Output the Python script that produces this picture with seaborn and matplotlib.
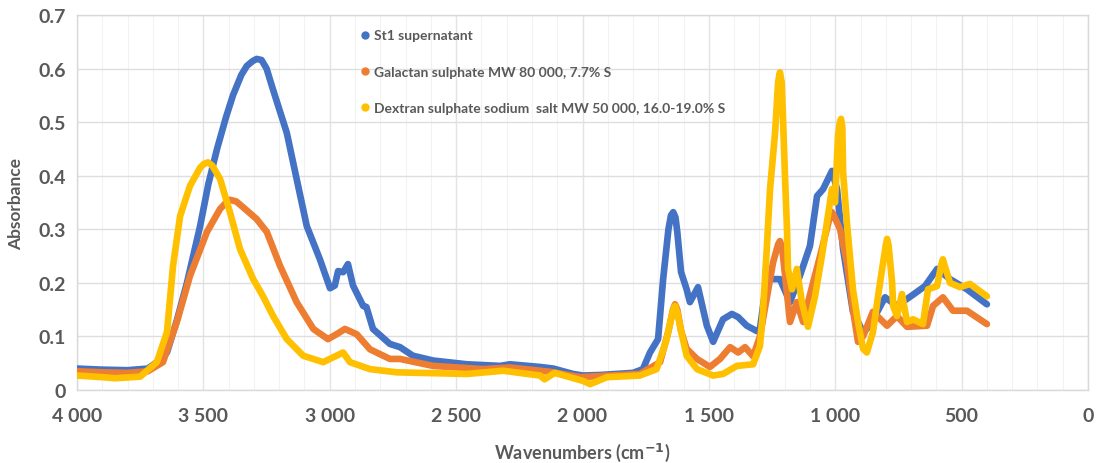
import matplotlib
matplotlib.use("Agg")
import matplotlib.pyplot as plt
import seaborn as sns
import pandas as pd
from matplotlib.lines import Line2D
from matplotlib.ticker import MultipleLocator, FixedLocator

# ---------------- data ----------------
series_names = ["St1 supernatant",
                "Galactan sulphate MW 80 000, 7.7% S",
                "Dextran sulphate sodium  salt MW 50 000, 16.0-19.0% S"]

st1_wn = [4000, 3900, 3800, 3720, 3684, 3644, 3605, 3565, 3513, 3480, 3446, 3410, 3383, 3350, 3328, 3305,
          3289, 3270, 3250, 3224, 3170, 3131, 3091, 3039, 2999, 2980, 2967, 2947, 2928, 2908, 2868, 2855,
          2829, 2762, 2722, 2671, 2591, 2457, 2326, 2287, 2168, 2115, 2038, 1998, 1931, 1800, 1761,
          1733, 1701, 1681, 1660, 1650, 1641, 1632, 1625, 1610, 1588, 1575, 1543, 1508, 1483, 1444, 1409,
          1384, 1350, 1310, 1298, 1271, 1219, 1179, 1140, 1100, 1072, 1048, 1013, 993, 969,
          930, 890, 863, 803, 756, 692, 645, 597, 546, 479, 400]
st1_abs = [0.040, 0.038, 0.037, 0.040, 0.052, 0.070, 0.130, 0.200, 0.306, 0.385, 0.450, 0.510, 0.550, 0.588, 0.605, 0.614,
           0.618, 0.616, 0.600, 0.560, 0.480, 0.394, 0.306, 0.244, 0.190, 0.195, 0.222, 0.220, 0.235, 0.195, 0.157, 0.155,
           0.114, 0.086, 0.080, 0.064, 0.055, 0.048, 0.045, 0.048, 0.043, 0.040, 0.030, 0.027, 0.028, 0.032, 0.039,
           0.070, 0.095, 0.207, 0.300, 0.326, 0.332, 0.322, 0.295, 0.220, 0.188, 0.164, 0.192, 0.120, 0.090, 0.132, 0.142,
           0.136, 0.120, 0.110, 0.114, 0.207, 0.207, 0.164, 0.213, 0.269, 0.362, 0.375, 0.409, 0.375, 0.263,
           0.146, 0.108, 0.120, 0.173, 0.157, 0.178, 0.194, 0.226, 0.207, 0.188, 0.160]

gal_wn = [4000, 3900, 3800, 3720, 3660, 3605, 3553, 3486, 3434, 3410, 3395, 3370, 3340, 3289, 3249, 3197,
          3131, 3065, 3007, 2970, 2940, 2893, 2841, 2762, 2722, 2591, 2394, 2287, 2129, 2010,
          1931, 1773, 1693, 1660, 1642, 1634, 1625, 1610, 1588, 1547, 1496, 1456, 1416, 1384, 1357, 1325,
          1298, 1246, 1226, 1219, 1210, 1179, 1152, 1127, 1088, 1060, 1020, 1013, 1005, 981, 954, 930, 910, 890, 851,
          795, 756, 716, 637, 613, 574, 534, 479, 400]
gal_abs = [0.035, 0.033, 0.032, 0.035, 0.052, 0.127, 0.213, 0.295, 0.338, 0.350, 0.355, 0.352, 0.340, 0.319, 0.295, 0.232,
           0.164, 0.114, 0.095, 0.105, 0.114, 0.104, 0.076, 0.058, 0.058, 0.045, 0.039, 0.042, 0.034, 0.024,
           0.026, 0.030, 0.052, 0.110, 0.150, 0.160, 0.150, 0.110, 0.077, 0.058, 0.043, 0.058, 0.080, 0.070, 0.080, 0.063,
           0.100, 0.238, 0.272, 0.278, 0.265, 0.127, 0.164, 0.127, 0.200, 0.250, 0.326, 0.332, 0.325, 0.300, 0.238, 0.150, 0.090, 0.100, 0.146,
           0.120, 0.138, 0.118, 0.120, 0.157, 0.173, 0.148, 0.148, 0.123]

dex_wn = [4000, 3900, 3850, 3750, 3684, 3644, 3620, 3592, 3553, 3513, 3498, 3482, 3465, 3434, 3395, 3355,
          3303, 3264, 3224, 3170, 3105, 3026, 2947, 2920, 2841, 2734, 2457, 2314, 2168, 2150,
          2110, 1998, 1970, 1903, 1773, 1707, 1670, 1642, 1634, 1625, 1610, 1588, 1547, 1483, 1444, 1389,
          1325, 1298, 1286, 1271, 1258, 1238, 1226, 1219, 1212, 1207, 1199, 1191, 1187, 1171, 1152, 1132,
          1108, 1080, 1053, 1029, 1013, 1001, 989, 982, 977, 972, 969, 954, 942, 930, 910, 890, 875, 851,
          823, 800, 795, 789, 775, 771, 756, 736, 716, 692, 653, 633, 597, 580, 574, 567, 546, 506, 467, 400]
dex_abs = [0.027, 0.024, 0.022, 0.025, 0.052, 0.108, 0.232, 0.325, 0.381, 0.415, 0.422, 0.425, 0.419, 0.394, 0.332, 0.263,
           0.207, 0.175, 0.138, 0.095, 0.064, 0.052, 0.070, 0.052, 0.039, 0.033, 0.030, 0.036, 0.027, 0.020,
           0.032, 0.017, 0.011, 0.024, 0.027, 0.039, 0.090, 0.148, 0.157, 0.145, 0.110, 0.064, 0.039, 0.027, 0.030, 0.045,
           0.048, 0.082, 0.146, 0.263, 0.375, 0.481, 0.575, 0.593, 0.575, 0.511, 0.400, 0.300, 0.226, 0.188, 0.226, 0.164,
           0.118, 0.175, 0.250, 0.325, 0.375, 0.350, 0.474, 0.500, 0.506, 0.490, 0.407, 0.313, 0.250, 0.188, 0.127, 0.077, 0.070, 0.108,
           0.200, 0.270, 0.282, 0.270, 0.200, 0.157, 0.138, 0.179, 0.127, 0.132, 0.123, 0.188, 0.194, 0.235, 0.244, 0.232, 0.200, 0.192, 0.198, 0.175]

x_ticks = [4000, 3500, 3000, 2500, 2000, 1500, 1000, 500, 0]
x_tick_labels = ["4 000", "3 500", "3 000", "2 500", "2 000", "1 500", "1 000", "500", "0"]
y_ticks = [0, 0.1, 0.2, 0.3, 0.4, 0.5, 0.6, 0.7]
y_tick_labels = ["0", "0.1", "0.2", "0.3", "0.4", "0.5", "0.6", "0.7"]

colors = ["#4472C4", "#ED7D31", "#FFC000"]

# ---------------- figure ----------------
sns.set_theme(style="white")
plt.rcParams["font.family"] = ["Lato", "DejaVu Sans"]

fig = plt.figure(figsize=(10.97, 4.64), dpi=100)
ax = fig.add_axes([0.0702, 0.1573, 0.9216, 0.8082])

frames = []
for name, wn, ab in [(series_names[0], st1_wn, st1_abs),
                     (series_names[1], gal_wn, gal_abs),
                     (series_names[2], dex_wn, dex_abs)]:
    assert len(wn) == len(ab), name
    frames.append(pd.DataFrame({"wn": wn, "abs": ab, "series": name}))
df = pd.concat(frames, ignore_index=True)

for name, col in zip(series_names, colors):
    sub = df[df["series"] == name]
    sns.lineplot(data=sub, x="wn", y="abs", sort=False, color=col, linewidth=4.8,
                 ax=ax, legend=False, solid_capstyle="round", solid_joinstyle="round", zorder=3)

ax.set_xlim(4000, 0)
ax.set_ylim(0, 0.7)
ax.xaxis.set_major_locator(FixedLocator(x_ticks))
ax.set_xticklabels(x_tick_labels)
ax.xaxis.set_minor_locator(MultipleLocator(100))
ax.set_yticks(y_ticks)
ax.set_yticklabels(y_tick_labels)

ax.grid(True, which="major", axis="y", color="#dedede", linewidth=1.0, zorder=0)
ax.grid(True, which="major", axis="x", color="#e3e3e3", linewidth=1.0, zorder=0)
ax.grid(True, which="minor", axis="x", color="#f2f2f2", linewidth=0.8, zorder=0)
ax.set_axisbelow(True)
for s in ax.spines.values():
    s.set_color("#d9d9d9")
    s.set_linewidth(1.0)

ax.tick_params(axis="both", which="both", length=0, labelsize=14, labelcolor="#595959")
ax.tick_params(axis="x", pad=12)
ax.tick_params(axis="y", pad=8)
for lbl in ax.get_xticklabels() + ax.get_yticklabels():
    lbl.set_fontweight("bold")

ax.set_xlabel("Wavenumbers (cm$^{\\mathbf{-1}}$)", fontsize=13, fontweight="bold", color="#595959", labelpad=12)
ax.set_ylabel("Absorbance", fontsize=12.5, fontweight="bold", color="#595959", labelpad=10)

handles = [Line2D([0], [0], marker="o", linestyle="none", markersize=5, color=c) for c in colors]
leg = ax.legend(handles, series_names, loc="upper left", bbox_to_anchor=(0.268, 0.995),
                frameon=False, handlelength=0.6, handletextpad=0.4, labelspacing=1.75,
                prop={"size": 10, "weight": "bold"})
for t in leg.get_texts():
    t.set_color("#595959")

fig.savefig("out.png", dpi=100)
